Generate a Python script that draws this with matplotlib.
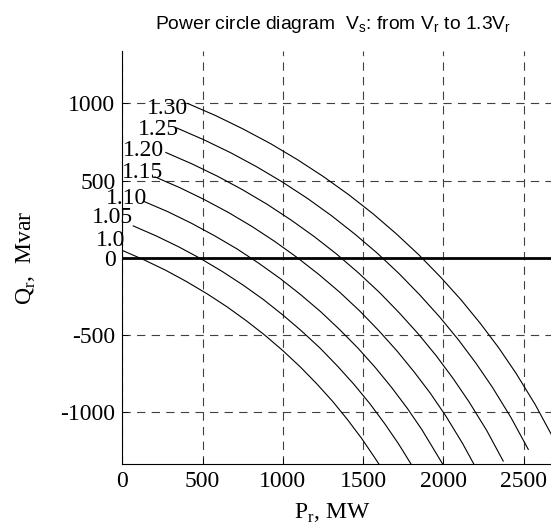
import numpy as np
import matplotlib
matplotlib.use("Agg")
import matplotlib.pyplot as plt

plt.rcParams["font.family"] = ["Liberation Serif", "DejaVu Serif"]
plt.rcParams["lines.scale_dashes"] = False
plt.rcParams["axes.unicode_minus"] = False

# Receiving-end power circles (P in MW, Q in Mvar)
p_100 = [0, 135, 267, 398, 526, 651, 771, 888, 1000, 1108, 1211, 1310, 1403, 1491, 1573, 1599]
q_100 = [47, -14, -80, -154, -233, -318, -408, -503, -603, -708, -818, -932, -1051, -1173, -1299, -1340]
p_105 = [68, 209, 348, 486, 620, 751, 878, 1000, 1118, 1232, 1340, 1443, 1541, 1633, 1720, 1799]
q_105 = [206, 142, 72, -5, -88, -177, -271, -372, -477, -587, -703, -822, -946, -1075, -1207, -1340]
p_110 = [136, 284, 429, 573, 714, 851, 984, 1112, 1236, 1354, 1468, 1576, 1678, 1775, 1866, 1996]
q_110 = [364, 298, 224, 143, 57, -37, -136, -241, -351, -467, -587, -713, -843, -977, -1116, -1340]
p_115 = [203, 358, 510, 661, 808, 951, 1090, 1224, 1354, 1478, 1596, 1709, 1816, 1918, 2013, 2118, 2190]
q_115 = [524, 454, 377, 293, 202, 104, 0, -109, -224, -345, -472, -603, -739, -879, -1024, -1203, -1340]
p_120 = [271, 432, 591, 748, 902, 1051, 1196, 1336, 1471, 1601, 1724, 1842, 1954, 2059, 2158, 2269, 2372]
q_120 = [682, 609, 529, 441, 346, 244, 136, 22, -99, -225, -357, -493, -635, -782, -933, -1120, -1319]
p_125 = [339, 507, 672, 836, 996, 1152, 1303, 1448, 1589, 1724, 1852, 1975, 2092, 2202, 2305, 2420, 2528]
q_125 = [841, 765, 682, 590, 491, 385, 272, 153, 28, -104, -241, -383, -531, -684, -841, -1036, -1243]
p_130 = [407, 582, 753, 924, 1090, 1252, 1409, 1561, 1707, 1847, 1981, 2109, 2230, 2345, 2452, 2571, 2683]
q_130 = [1000, 921, 834, 739, 636, 526, 409, 285, 154, 18, -125, -273, -427, -586, -750, -952, -1168]

curve_labels = ["1.0", "1.05", "1.10", "1.15", "1.20", "1.25", "1.30"]
x_ticks = [0, 500, 1000, 1500, 2000, 2500]
y_ticks = [-1000, -500, 0, 500, 1000]

curves = [(p_100, q_100), (p_105, q_105), (p_110, q_110), (p_115, q_115),
          (p_120, q_120), (p_125, q_125), (p_130, q_130)]
# where each label sits (right edge, vertical centre), in data units
label_pos = [(17, 112), (68, 258), (152, 383), (252, 554),
             (261, 692), (355, 833), (407, 969)]

fig = plt.figure(figsize=(5.51, 5.24), dpi=100)
ax = fig.add_axes([0.222, 0.1139, 0.816, 0.7887])

for (p, q) in curves:
    ax.plot(p, q, color="k", lw=0.8)
ax.axhline(0, color="k", lw=2.0)

for txt, (lx, ly) in zip(curve_labels, label_pos):
    ax.text(lx, ly, txt, ha="right", va="center", fontsize=17, clip_on=False)

ax.set_xlim(0, 2800)
ax.set_ylim(-1340, 1340)
ax.set_xticks(x_ticks)
ax.set_yticks(y_ticks)
ax.tick_params(direction="in", length=4, width=0.6, labelsize=17)
ax.tick_params(axis="x", pad=5)
ax.tick_params(axis="y", pad=5)
ax.grid(True, color="0.25", lw=0.8, linestyle=(0, (6, 4.5)))
ax.spines["top"].set_visible(False)
ax.spines["right"].set_visible(False)
for s in ("left", "bottom"):
    ax.spines[s].set_linewidth(0.8)

fig.text(333.5 / 551, 1 - 29 / 524,
         r"Power circle diagram  V$_\mathregular{s}$: from V$_\mathregular{r}$ to 1.3V$_\mathregular{r}$",
         ha="center", va="baseline", fontsize=13.9, family="Liberation Sans")
fig.text(332 / 551, 1 - 519 / 524, r"P$_\mathregular{r}$, MW",
         ha="center", va="baseline", fontsize=17)
fig.text(26 / 551, 1 - 257.5 / 524, r"Q$_\mathregular{r}$,  Mvar",
         ha="center", va="center", rotation=90, fontsize=17)

fig.savefig("out.png", dpi=100)
